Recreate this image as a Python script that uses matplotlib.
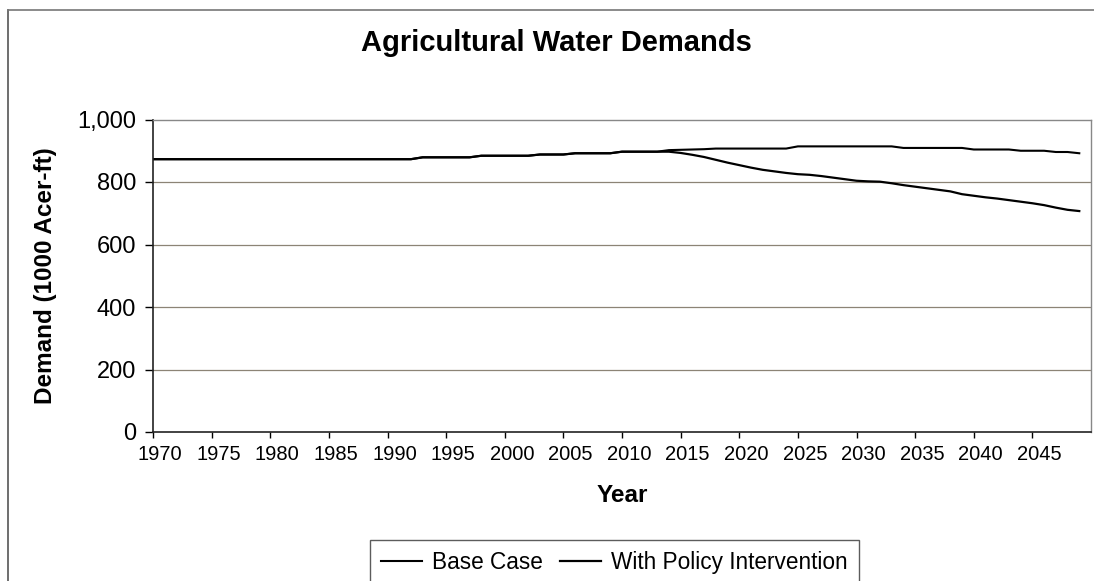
import matplotlib
matplotlib.use("Agg")
import matplotlib.pyplot as plt
import matplotlib.transforms as mtransforms
from matplotlib.lines import Line2D

matplotlib.rcParams["font.family"] = ["Liberation Sans", "DejaVu Sans"]

# ── 数据 ────────────────────────────────────────────────
years = list(range(1970, 2050))

base_case = (
    [873] * 23                      # 1970-1992
    + [879] * 5                     # 1993-1997
    + [884] * 5                     # 1998-2002
    + [888] * 3                     # 2003-2005
    + [892] * 4                     # 2006-2009
    + [897] * 4                     # 2010-2013
    + [902, 903, 904, 905]          # 2014-2017
    + [907] * 7                     # 2018-2024
    + [914] * 9                     # 2025-2033
    + [909] * 6                     # 2034-2039
    + [904] * 4                     # 2040-2043
    + [900] * 3                     # 2044-2046
    + [896, 896, 892]               # 2047-2049
)

with_policy = (
    [873] * 23
    + [879] * 5
    + [884] * 5
    + [888] * 3
    + [892] * 4
    + [897] * 4
    + [897, 893, 887, 880, 871, 862, 854, 846, 839, 834,   # 2014-2023
       829, 825, 823, 819, 814, 809, 804, 802, 801, 796,   # 2024-2033
       790, 785, 780, 775, 770, 761, 756, 751, 747, 742,   # 2034-2043
       737, 732, 726, 718, 711, 707]                       # 2044-2049
)

x_ticks = list(range(1970, 2050, 5))
y_ticks = [0, 200, 400, 600, 800, 1000]
y_tick_labels = ["0", "200", "400", "600", "800", "1,000"]

# ── 绘图 ────────────────────────────────────────────────
W, H = 1094, 581
fig = plt.figure(figsize=(W / 100, H / 100), dpi=100)
ax = fig.add_axes([153 / W, 1 - 432 / H, (1091 - 153) / W, (432 - 119.5) / H])

ax.plot(years, base_case, color="black", linewidth=1.5, label="Base Case")
ax.plot(years, with_policy, color="black", linewidth=1.6, label="With Policy Intervention")

ax.set_xlim(1970, 2050)
ax.set_ylim(0, 1000)
ax.set_xticks(x_ticks)
ax.set_xticklabels([str(y) for y in x_ticks], fontsize=14.5)
ax.set_yticks(y_ticks)
ax.set_yticklabels(y_tick_labels, fontsize=17)
ax.tick_params(axis="x", length=4, width=1, direction="out", pad=5)
ax.tick_params(axis="y", length=6, width=1, direction="out", pad=6)

# 年份标签略向右偏
shift = mtransforms.ScaledTranslation(7 / 100, 0, fig.dpi_scale_trans)
for lbl in ax.get_xticklabels():
    lbl.set_transform(lbl.get_transform() + shift)

# 网格线
for v in y_ticks[1:-1]:
    ax.axhline(v, color="#8c8476", linewidth=0.9, zorder=0)

for side in ["left", "bottom"]:
    ax.spines[side].set_color("#222222")
    ax.spines[side].set_linewidth(1.2)
for side in ["top", "right"]:
    ax.spines[side].set_color("#888888")
    ax.spines[side].set_linewidth(1.0)

ax.set_xlabel("Year", fontsize=17.5, fontweight="bold", va="center")
ax.xaxis.set_label_coords(0.5, (432 - 495) / 312.5)
ax.set_ylabel("Demand (1000 Acer-ft)", fontsize=17.5, fontweight="bold", va="center")
ax.yaxis.set_label_coords((46 - 153) / 938, 0.5)

fig.text(556.7 / W, 1 - 43 / H, "Agricultural Water Demands", fontsize=21, fontweight="bold",
         ha="center", va="center")

# 外框（左、上）
fig.add_artist(Line2D([8 / W, 8 / W], [0, 1 - 10 / H], color="#555555", linewidth=1.2))
fig.add_artist(Line2D([8 / W, 1], [1 - 10 / H, 1 - 10 / H], color="#777777", linewidth=1.2))

leg = fig.legend(loc="upper center", bbox_to_anchor=(614.5 / W, 1 - 540 / H), ncol=2,
                 fontsize=16.3, frameon=True, fancybox=False, edgecolor="#333333",
                 handlelength=1.8, handletextpad=0.45, columnspacing=0.75,
                 borderpad=0.5, borderaxespad=0)
leg.get_frame().set_linewidth(1.0)

fig.savefig("out.png", dpi=100)
plt.close(fig)
